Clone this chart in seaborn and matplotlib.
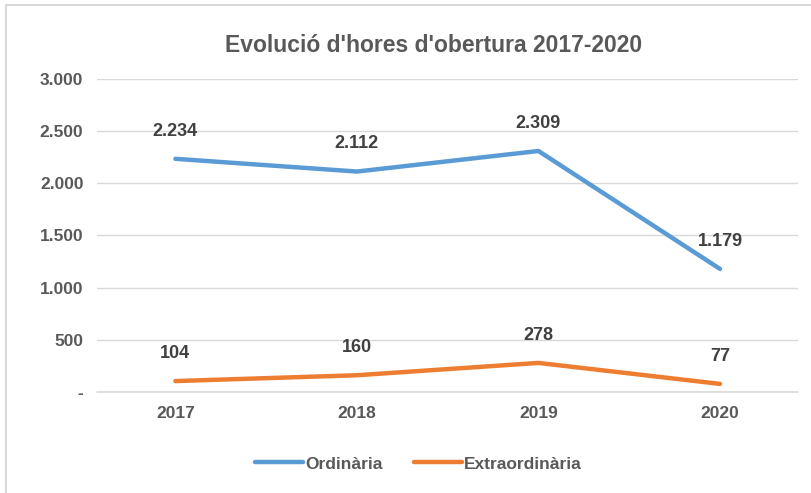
import pandas as pd
import seaborn as sns
import matplotlib.pyplot as plt
from matplotlib.patches import Rectangle
from matplotlib.ticker import FuncFormatter

years = ['2017', '2018', '2019', '2020']
ordinaria = [2234, 2112, 2309, 1179]
extraordinaria = [104, 160, 278, 77]
seriesNames = ['Ordinària', 'Extraordinària']
yTicks = [0, 500, 1000, 1500, 2000, 2500, 3000]

dfHours = pd.DataFrame({'Any': years, seriesNames[0]: ordinaria, seriesNames[1]: extraordinaria})
dfMelted = dfHours.melt(id_vars=['Any'], var_name='Tipus', value_name='Hores')

sns.set_style('white')
plt.rcParams['font.family'] = ['Liberation Sans', 'DejaVu Sans']

fig = plt.figure(figsize=(8.11, 4.93), dpi=100)
ax = fig.add_axes([0.12, 0.205, 0.864, 0.635])
fig.patches.append(Rectangle((0.007, -0.01), 1.1, 1.0, transform=fig.transFigure,
                             fill=False, edgecolor='#d9d9d9', linewidth=1.5))

palette = {seriesNames[0]: '#5B9BD5', seriesNames[1]: '#ED7D31'}
ax.axhline(0, color='#d9d9d9', linewidth=1.2, zorder=0, clip_on=False)
sns.lineplot(data=dfMelted, x='Any', y='Hores', hue='Tipus', palette=palette,
             linewidth=3.2, ax=ax, sort=False)

# data labels
for name, vals in zip(seriesNames, [ordinaria, extraordinaria]):
    for i, v in enumerate(vals):
        ax.annotate(f'{v:,}'.replace(',', '.'), (i, v), xytext=(0, 20), textcoords='offset points',
                    ha='center', va='center', fontsize=13, fontweight='bold', color='#404040')

ax.set_xlim(-0.43, 3.43)
ax.set_ylim(0, 3000)
ax.set_yticks(yTicks)
ax.yaxis.set_major_formatter(FuncFormatter(lambda v, p: '-' if v == 0 else f'{int(v):,}'.replace(',', '.')))
ax.grid(axis='y', color='#d9d9d9', linewidth=1)
ax.tick_params(axis='both', length=0, labelsize=12.5, labelcolor='#595959', pad=10)
for lbl in ax.get_xticklabels() + ax.get_yticklabels():
    lbl.set_fontweight('bold')
for s in ax.spines.values():
    s.set_visible(False)
ax.set_xlabel('')
ax.set_ylabel('')

fig.text(0.535, 0.908, "Evolució d'hores d'obertura 2017-2020", ha='center', va='center',
         fontsize=16.5, fontweight='bold', color='#595959')

handles, labels = ax.get_legend_handles_labels()
leg = ax.legend(handles, labels, loc='center', bbox_to_anchor=(0.458, -0.23), ncol=2, frameon=False,
                fontsize=12.5, handlelength=2.8, handletextpad=0.1, columnspacing=1.8,
                labelcolor='#595959')
for t in leg.get_texts():
    t.set_fontweight('bold')

plt.savefig('out.png', dpi=100)
